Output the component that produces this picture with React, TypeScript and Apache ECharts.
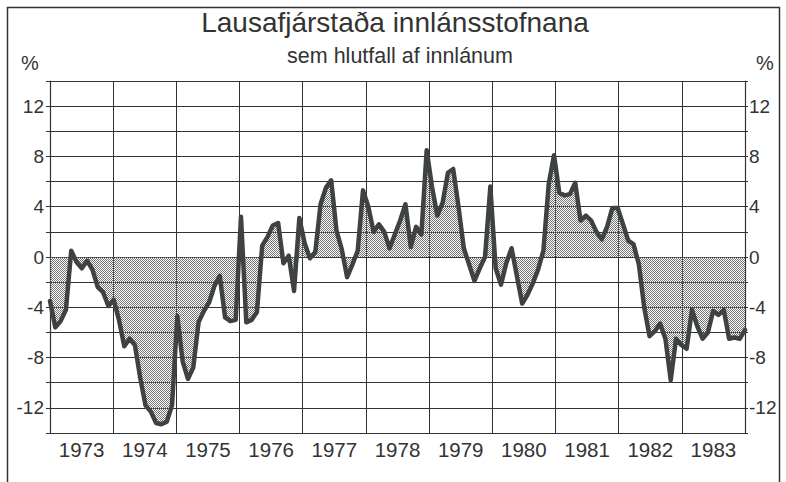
import React, { useEffect, useRef } from "react";
import * as echarts from "echarts";

const years = ["1973", "1974", "1975", "1976", "1977", "1978", "1979", "1980", "1981", "1982", "1983"];

// Monthly liquidity position of deposit institutions, % of deposits (Jan 1973 - Dec 1983)
const liquidity = [
  -3.5, -5.6, -5.1, -4.2, 0.5, -0.4, -0.9, -0.3, -1.0, -2.4, -2.8, -3.9,
  -3.4, -5.0, -7.1, -6.5, -7.0, -9.6, -11.8, -12.3, -13.2, -13.3, -13.1, -11.8,
  -4.7, -8.3, -9.7, -8.8, -5.2, -4.3, -3.6, -2.3, -1.5, -4.8, -5.1, -5.0,
  3.2, -5.2, -5.0, -4.4, 0.9, 1.6, 2.5, 2.7, -0.5, 0.1, -2.7, 3.1,
  1.1, -0.1, 0.4, 4.2, 5.5, 6.1, 2.1, 0.6, -1.6, -0.6, 0.5, 5.3,
  4.0, 2.0, 2.6, 2.0, 0.7, 1.8, 2.9, 4.2, 0.8, 2.4, 1.8, 8.5,
  5.6, 3.3, 4.3, 6.7, 7.0, 4.0, 0.7, -0.6, -1.9, -0.9, 0.0, 5.6,
  -0.9, -2.2, -0.5, 0.7, -1.5, -3.7, -3.0, -2.1, -1.0, 0.5, 5.8, 8.1,
  5.1, 4.9, 5.0, 5.9, 2.9, 3.3, 2.9, 2.0, 1.4, 2.4, 3.9, 3.9,
  2.6, 1.3, 1.0, -0.6, -4.0, -6.3, -5.9, -5.3, -6.5, -9.8, -6.5, -7.0,
  -7.3, -4.2, -5.5, -6.5, -6.0, -4.3, -4.6, -4.2, -6.5, -6.4, -6.5, -5.8,
];

const yMin = -14;
const yMax = 14;
const yStep = 2;
const labelStep = 4;

const titleText = "Lausafjárstaða innlánsstofnana";
const subtitleText = "sem hlutfall af innlánum";
const unitText = "%";

const FONT = "'Liberation Sans', Arial, Helvetica, sans-serif";
const INK = "#333333";

function makeStipple(): any {
  try {
    const c = document.createElement("canvas");
    c.width = 2;
    c.height = 2;
    const ctx = c.getContext("2d");
    if (!ctx) return "#bdbdbd";
    ctx.clearRect(0, 0, 2, 2);
    ctx.fillStyle = "#747474";
    ctx.fillRect(0, 0, 1, 1);
    ctx.fillRect(1, 1, 1, 1);
    return { image: c, repeat: "repeat" };
  } catch (e) {
    return "#bdbdbd";
  }
}

export default function App() {
  const ref = useRef<HTMLDivElement>(null);

  useEffect(() => {
    if (!ref.current) return;
    const chart = echarts.init(ref.current, undefined, { renderer: "svg" });
    const labelFmt = (v: number) => (Math.abs(v % labelStep) < 1e-9 ? String(v) : "");
    const axisLabelStyle = { color: INK, fontSize: 19, fontFamily: FONT };
    const centered = {
      fontFamily: FONT,
      fill: INK,
      textAlign: "center",
      textVerticalAlign: "middle",
      align: "center",
      verticalAlign: "middle",
    };

    chart.setOption({
      animation: false,
      backgroundColor: "#ffffff",
      grid: { left: 50, right: 41, top: 81, bottom: 49, containLabel: false },
      graphic: [
        {
          type: "rect",
          shape: { x: 7.5, y: 7.5, width: 772, height: 490 },
          style: { fill: "none", stroke: "#333", lineWidth: 1.5 },
          silent: true,
        },
        { type: "text", x: 395, y: 22, style: { ...centered, text: titleText, fontSize: 28 } },
        { type: "text", x: 400, y: 56, style: { ...centered, text: subtitleText, fontSize: 21.5 } },
        { type: "text", x: 30, y: 63, style: { ...centered, text: unitText, fontSize: 20 } },
        { type: "text", x: 765, y: 63, style: { ...centered, text: unitText, fontSize: 20 } },
      ],
      xAxis: [
        {
          type: "category",
          data: years,
          boundaryGap: true,
          position: "bottom",
          axisLine: { show: true, lineStyle: { color: INK, width: 1 } },
          axisTick: { show: true, length: 4, inside: false, lineStyle: { color: INK } },
          axisLabel: { ...axisLabelStyle, fontSize: 20.5, margin: 6 },
          splitLine: { show: true, lineStyle: { color: "#333", width: 1 } },
        },
        {
          type: "value",
          min: 0,
          max: liquidity.length - 1,
          show: false,
          splitLine: { show: false },
        },
      ],
      yAxis: [
        {
          type: "value",
          position: "left",
          min: yMin,
          max: yMax,
          interval: yStep,
          axisLine: { show: true, lineStyle: { color: INK, width: 1.2 } },
          axisTick: { show: true, length: 4, lineStyle: { color: INK } },
          axisLabel: { ...axisLabelStyle, margin: 6, formatter: labelFmt },
          splitLine: { show: true, lineStyle: { color: "#333", width: 1 } },
        },
        {
          type: "value",
          position: "right",
          min: yMin,
          max: yMax,
          interval: yStep,
          axisLine: { show: true, lineStyle: { color: INK, width: 1.2 } },
          axisTick: { show: true, length: 3, lineStyle: { color: INK } },
          axisLabel: { ...axisLabelStyle, margin: 4, formatter: labelFmt },
          splitLine: { show: false },
        },
      ],
      series: [
        {
          type: "line",
          xAxisIndex: 1,
          yAxisIndex: 0,
          data: liquidity.map((v, i) => [i, v]),
          showSymbol: false,
          symbol: "none",
          lineStyle: { color: "#3f433f", width: 4.5, join: "round", cap: "round" },
          areaStyle: { color: makeStipple(), opacity: 1, origin: "auto" },
          z: 3,
        },
      ],
    });
    return () => chart.dispose();
  }, []);

  return (
    <div
      ref={ref}
      style={{ position: "fixed", left: 0, top: 0, width: 786, height: 482, background: "#fff" }}
    />
  );
}
